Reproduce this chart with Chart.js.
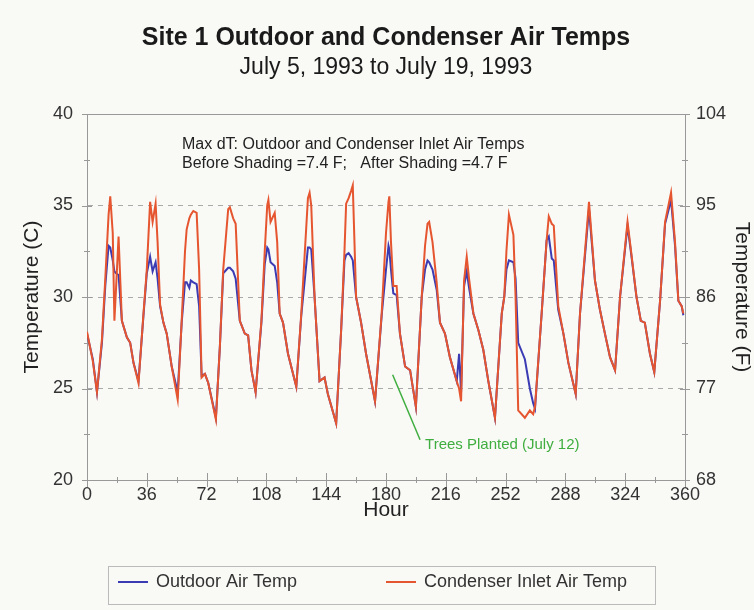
<!DOCTYPE html>
<html>
<head>
<meta charset="utf-8">
<script src="https://cdn.jsdelivr.net/npm/chart.js@4.4.0/dist/chart.umd.min.js"></script>
<style>
  html, body { margin: 0; padding: 0; background: #f9f9f6; }
</style>
</head>
<body>
<canvas id="temps" width="754" height="610"></canvas>
<script>
// Data (hour since July 5, temperature in C)
const hours = [
  0, 3.5, 6, 9, 11, 13, 14, 15.5, 16.5, 17.5, 19, 21, 24, 26, 28, 31, 34, 36, 38, 39.5,
  41.3, 42.5, 44, 46, 48, 51, 54.6, 57, 59, 60, 61.6, 62.5, 64, 66, 67.5, 69, 71, 73, 77.6, 80,
  82, 85, 86, 88, 89.5, 92, 95, 97, 99, 101.5, 105, 107, 108.5, 109.2, 110.5, 113, 114.5, 116, 118, 121,
  126, 129, 133, 134, 135, 137, 140, 143, 145, 150, 153, 155, 156, 157.5, 159, 160, 162, 165, 168, 173.4,
  177.4, 180, 181.5, 182, 183, 184.4, 186.4, 188.4, 191.5, 194.5, 198, 201.5, 203.5, 205, 206, 208, 210.5, 212.5, 215.5, 218.5,
  222.6, 224, 225.2, 227, 228.6, 230, 232.6, 235.6, 238.6, 241.6, 245.6, 249.7, 251.2, 252.5, 254, 256.7, 258, 259.6, 263.6, 266.6,
  268.6, 269.7, 273.7, 276.7, 278, 279.8, 281, 283.7, 286.8, 289.8, 294.2, 296.8, 302.2, 305.8, 308.8, 311.8, 314.9, 317.9, 320.9, 325.4,
  327.8, 330.8, 333.4, 335.8, 338.9, 341.5, 345, 348, 351.6, 354, 356, 358, 359
];
const outdoorTemp = [
  28.0, 26.6, 24.8, 27.5, 30.6, 32.8, 32.7, 32.0, 31.4, 31.3, 31.2, 28.7, 27.8, 27.5, 26.4, 25.4, 29.0, 31.3, 32.2, 31.4,
  31.9, 31.0, 29.5, 28.6, 28.0, 26.2, 24.8, 28.6, 30.8, 30.8, 30.5, 30.9, 30.8, 30.7, 29.5, 25.7, 25.8, 25.3, 23.4, 27.3,
  31.3, 31.6, 31.6, 31.4, 31.0, 28.7, 28.0, 27.9, 26.0, 24.8, 28.6, 31.8, 32.7, 32.6, 31.9, 31.7, 30.8, 29.1, 28.6, 26.9,
  25.1, 29.0, 32.7, 32.7, 32.6, 30.0, 25.4, 25.6, 24.7, 23.1, 28.2, 32.0, 32.3, 32.4, 32.2, 32.0, 30.0, 28.6, 26.9, 24.3,
  29.0, 31.5, 32.8, 32.6, 31.5, 30.2, 30.1, 28.0, 26.2, 26.0, 24.0, 30.0, 31.5, 32.0, 31.9, 31.5, 30.4, 28.6, 28.0, 26.7,
  25.4, 26.9, 24.8, 30.6, 31.4, 30.5, 29.1, 28.2, 27.1, 25.4, 23.4, 29.1, 30.0, 31.5, 32.0, 31.9, 31.0, 27.5, 26.6, 25.0,
  24.2, 23.9, 29.1, 33.1, 33.3, 32.1, 32.0, 29.3, 28.0, 26.4, 24.7, 29.1, 34.8, 30.9, 29.3, 28.0, 26.7, 26.0, 30.0, 33.9,
  32.2, 30.0, 28.7, 28.6, 26.9, 25.9, 29.8, 34.0, 35.3, 32.8, 29.8, 29.5, 29.0
];
const condenserTemp = [
  28.1, 26.5, 24.8, 27.7, 31.0, 34.5, 35.5, 33.5, 28.7, 30.5, 33.3, 28.7, 27.8, 27.5, 26.4, 25.3, 29.1, 31.5, 35.2, 34.1,
  35.1, 33.0, 29.6, 28.6, 28.0, 26.2, 24.4, 28.7, 32.5, 33.7, 34.3, 34.5, 34.7, 34.6, 31.5, 25.6, 25.8, 25.3, 23.3, 27.3,
  31.5, 34.8, 34.9, 34.3, 34.0, 28.7, 28.0, 27.9, 26.0, 24.8, 28.7, 32.5, 35.0, 35.3, 34.1, 34.6, 33.0, 29.1, 28.6, 26.9,
  25.1, 29.1, 35.4, 35.7, 35.0, 30.0, 25.4, 25.6, 24.7, 23.1, 28.2, 32.5, 35.1, 35.4, 35.8, 36.1, 30.0, 28.6, 26.9, 24.3,
  29.1, 33.5, 35.2, 35.5, 33.0, 30.6, 30.6, 28.0, 26.2, 26.0, 24.0, 30.0, 32.8, 34.0, 34.1, 33.0, 30.8, 28.6, 28.0, 26.7,
  25.4, 25.0, 24.3, 30.9, 32.2, 31.0, 29.1, 28.2, 27.1, 25.4, 23.4, 29.1, 30.0, 32.5, 34.5, 33.4, 30.0, 23.8, 23.4, 23.8,
  23.6, 24.0, 29.1, 33.1, 34.4, 34.0, 33.9, 29.5, 28.0, 26.4, 24.7, 29.1, 35.2, 30.9, 29.3, 28.0, 26.7, 26.0, 30.0, 34.1,
  32.3, 30.0, 28.7, 28.6, 26.9, 25.9, 29.8, 34.1, 35.7, 33.0, 29.8, 29.5, 29.1
];

// "Trees Planted" pointer
const noteLineHours = [184, 200.5];
const noteLineTemps = [25.75, 22.2];

// Axis ticks
const hourTicks = [0, 36, 72, 108, 144, 180, 216, 252, 288, 324, 360];
const celsiusTicks = [20, 25, 30, 35, 40];
const fahrenheitTicks = [68, 77, 86, 95, 104];

const FONT = "'Liberation Sans', Arial, Helvetica, sans-serif";
Chart.defaults.font.family = FONT;
Chart.defaults.color = "#333";

const blue = "#3b3bb3";
const red = "#e5552f";
const green = "#3fae3f";

function toPoints(xs, ys) {
    return xs.map((x, i) => ({ x: x, y: ys[i] }));
}

function midpoints(arr) {
    const out = [];
    for (let i = 0; i < arr.length - 1; i++) out.push((arr[i] + arr[i + 1]) / 2);
    return out;
}

function useTicks(list) {
    return function(scale) {
        scale.ticks = list.map(v => ({ value: v }));
    };
}

// frame line along the top and crossing tick marks
const frameTicks = {
    id: 'frameTicks',
    beforeDatasetsDraw(chart) {
        const { ctx, chartArea: a, scales } = chart;
        ctx.save();
        ctx.strokeStyle = "#999";
        ctx.lineWidth = 1;
        ctx.beginPath();
        ctx.moveTo(a.left, a.top + 0.5);
        ctx.lineTo(a.right, a.top + 0.5);

        const xMark = (v, len) => {
            const px = Math.round(scales.x.getPixelForValue(v)) + 0.5;
            ctx.moveTo(px, a.bottom - len);
            ctx.lineTo(px, a.bottom + len);
        };
        hourTicks.forEach(v => xMark(v, 7));
        midpoints(hourTicks).forEach(v => xMark(v, 3));

        const yMark = (scale, edge, v, len) => {
            const py = Math.round(scale.getPixelForValue(v)) + 0.5;
            ctx.moveTo(edge - len, py);
            ctx.lineTo(edge + len, py);
        };
        celsiusTicks.forEach(v => yMark(scales.y, a.left, v, 5));
        midpoints(celsiusTicks).forEach(v => yMark(scales.y, a.left, v, 3));
        fahrenheitTicks.forEach(v => yMark(scales.yF, a.right, v, 5));
        midpoints(fahrenheitTicks).forEach(v => yMark(scales.yF, a.right, v, 3));
        ctx.stroke();
        ctx.restore();
    },
    afterDraw(chart) {
        const { ctx, scales } = chart;
        ctx.save();
        // notes
        ctx.fillStyle = "#222";
        ctx.font = "16px " + FONT;
        ctx.textBaseline = "middle";
        ctx.fillText("Max dT: Outdoor and Condenser Inlet Air Temps", 182, 145);
        ctx.fillText("Before Shading =7.4 F;   After Shading =4.7 F", 182, 164);

        ctx.fillStyle = green;
        ctx.font = "15px " + FONT;
        ctx.fillText("Trees Planted (July 12)", scales.x.getPixelForValue(203.5), scales.y.getPixelForValue(21.9));

        // legend box
        ctx.strokeStyle = "#bbb";
        ctx.lineWidth = 1;
        ctx.strokeRect(108.5, 566.5, 547, 38);
        ctx.font = "18px " + FONT;
        ctx.fillStyle = "#333";
        const items = [[chart.data.datasets[0], 118], [chart.data.datasets[1], 386]];
        items.forEach(([ds, x]) => {
            ctx.strokeStyle = ds.borderColor;
            ctx.lineWidth = 2;
            ctx.beginPath();
            ctx.moveTo(x, 582);
            ctx.lineTo(x + 30, 582);
            ctx.stroke();
            ctx.fillText(ds.label, x + 38, 582);
        });
        ctx.restore();
    }
};

new Chart(document.getElementById('temps'), {
    type: 'line',
    data: {
        datasets: [
            {
                label: 'Outdoor Air Temp',
                data: toPoints(hours, outdoorTemp),
                borderColor: blue,
                borderWidth: 2,
                order: 2
            },
            {
                label: 'Condenser Inlet Air Temp',
                data: toPoints(hours, condenserTemp),
                borderColor: red,
                borderWidth: 2,
                order: 1
            },
            {
                label: 'note',
                data: toPoints(noteLineHours, noteLineTemps),
                borderColor: green,
                borderWidth: 1.5,
                order: 0
            }
        ]
    },
    options: {
        responsive: false,
        animation: false,
        elements: {
            point: { radius: 0 },
            line: { tension: 0, fill: false }
        },
        layout: {
            // left padding nudges the centred titles right, like the original
            padding: { top: 0, left: 18, right: 0, bottom: 70 }
        },
        scales: {
            x: {
                type: 'linear',
                min: 0,
                max: 360,
                afterBuildTicks: useTicks(hourTicks),
                afterFit: s => { s.height = 60; },
                grid: { display: false, drawTicks: false },
                border: { display: true, color: '#999' },
                ticks: { padding: 4, font: { size: 18 }, color: '#333', maxRotation: 0 },
                title: {
                    display: true,
                    text: 'Hour',
                    font: { size: 21 },
                    color: '#222',
                    padding: { top: 0, bottom: 17 }
                }
            },
            y: {
                position: 'left',
                min: 20,
                max: 40,
                afterBuildTicks: useTicks(celsiusTicks),
                afterFit: s => { s.width = 69; },
                grid: {
                    drawTicks: false,
                    color: c => (c.tick && c.tick.value > 20 && c.tick.value < 40) ? '#aaa' : 'rgba(0,0,0,0)'
                },
                border: { display: true, color: '#999', dash: [5, 5] },
                ticks: { padding: 14, font: { size: 18 }, color: '#333' },
                title: {
                    display: true,
                    text: 'Temperature (C)',
                    font: { size: 21 },
                    color: '#222',
                    padding: { top: 1.4, bottom: 0 }
                }
            },
            yF: {
                position: 'right',
                min: 68,
                max: 104,
                afterBuildTicks: useTicks(fahrenheitTicks),
                afterFit: s => { s.width = 69; },
                grid: { display: false, drawTicks: false },
                border: { display: true, color: '#999' },
                ticks: { padding: 11, font: { size: 18 }, color: '#333' },
                title: {
                    display: true,
                    text: 'Temperature (F)',
                    font: { size: 21 },
                    color: '#222',
                    padding: { top: 0, bottom: 0 }
                }
            }
        },
        plugins: {
            legend: { display: false },
            tooltip: { enabled: false },
            title: {
                display: true,
                text: 'Site 1 Outdoor and Condenser Air Temps',
                font: { size: 25, weight: 'bold' },
                color: '#1a1a1a',
                padding: { top: 23, bottom: 0 }
            },
            subtitle: {
                display: true,
                text: 'July 5, 1993 to July 19, 1993',
                font: { size: 23 },
                color: '#1a1a1a',
                padding: { top: 1, bottom: 32.4 }
            }
        }
    },
    plugins: [frameTicks]
});
</script>
</body>
</html>
